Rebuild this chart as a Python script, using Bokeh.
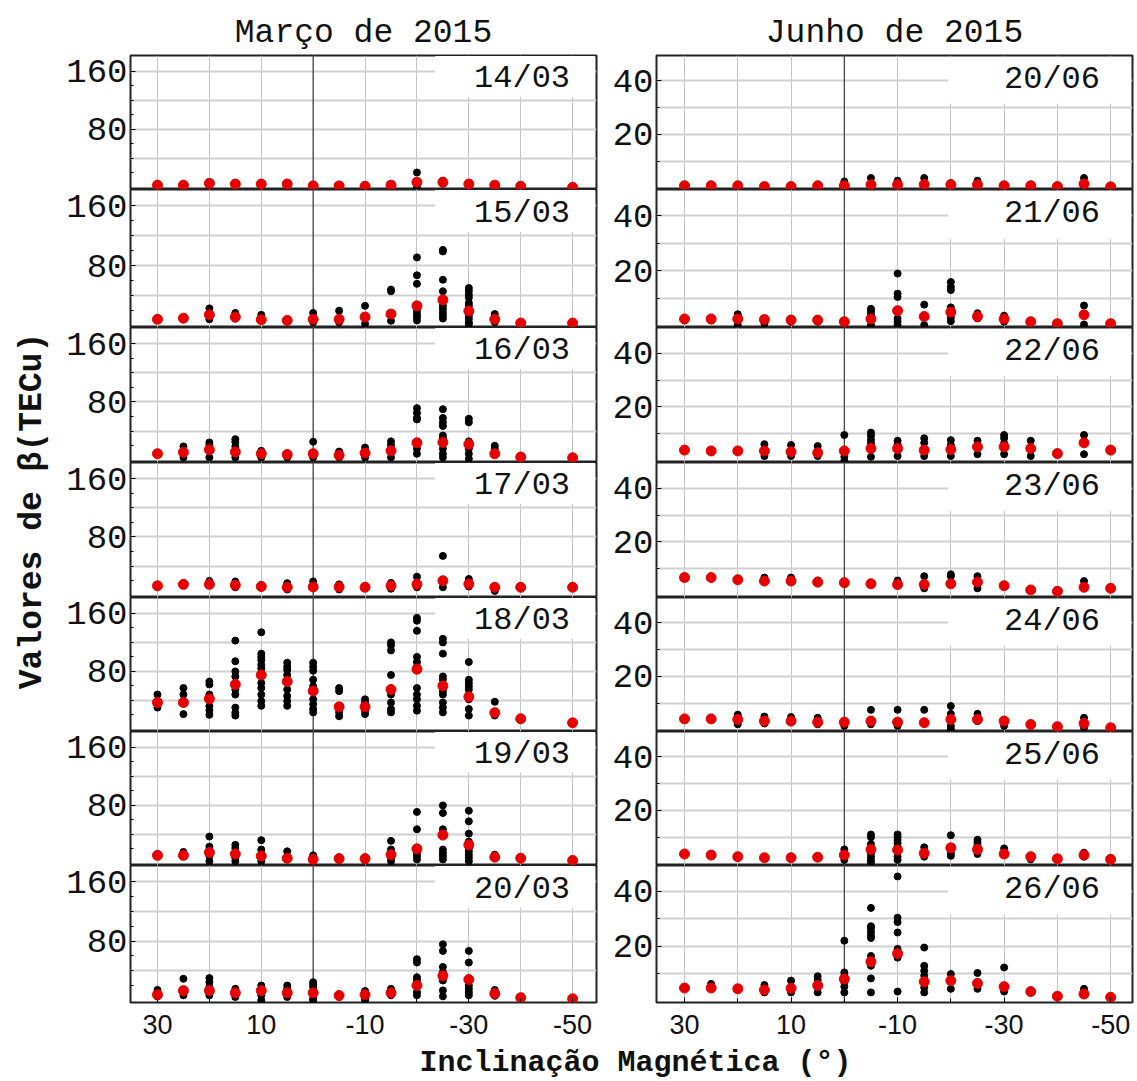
import math
from bokeh.plotting import figure
from bokeh.layouts import gridplot, row, column
from bokeh.models import Range1d, FixedTicker, Grid, Span, Label, BoxAnnotation
from bokeh.embed import file_html
from bokeh.resources import INLINE

MONO = "Liberation Mono"

# ---------------- data ----------------
incl_mar = [30, 25, 20, 15, 10, 5, 0, -5, -10, -15, -20, -25, -30, -35, -40, -50]
incl_jun = [30, 25, 20, 15, 10, 5, 0, -5, -10, -15, -20, -25, -30, -35, -40, -45, -50]

mar14_mean = [3, 3, 5.5, 4.5, 4.5, 4.5, 2, 2, 1.5, 3, 7, 7, 4.5, 3, 1.5, 0]
mar14_pts = [[1, 4], [2, 4], [3, 7], [3, 6], [2, 6], [3, 6], [1, 3], [1, 3], [1], [2, 4],
             [0, 7, 20.5], [5, 9], [2, 6], [2], [1], [0]]

mar15_mean = [8, 9.5, 14, 11, 7.5, 6.5, 8, 8, 11, 15, 26, 34, 19, 8, 3, 3]
mar15_pts = [[7], [8], [8, 14, 22.6], [9, 16.5], [6, 14], [5, 7], [4, 16.5], [4, 19.5],
             [2, 11, 26], [6, 15, 45.6, 47.8], [6.5, 11, 15, 19.5, 55.6, 67, 91],
             [9, 13, 17, 22, 26, 45.6, 61, 99, 101],
             [1.5, 4, 9, 13, 19, 26, 30, 37, 41, 46, 50], [4, 15], [3], [3]]

mar16_mean = [9, 11, 14.5, 11.5, 9, 8, 9, 7, 10, 13, 24, 24.5, 22, 9, 4.5, 3.5]
mar16_pts = [[8], [4, 19], [4, 21, 24.5], [4, 19, 25, 29], [4, 13], [4, 8], [4, 25.5], [4, 12],
             [4, 17.5], [4, 21, 26], [9, 16, 56, 58, 65, 71.5],
             [4, 9, 16, 30, 34, 47, 52, 58, 70], [2, 9, 16, 26, 52, 57], [8, 16, 20], [4], [3]]

mar17_mean = [13, 15, 15, 14, 12, 11, 11.5, 11.5, 11, 13, 15, 20, 15.5, 11, 11, 11]
mar17_pts = [[12], [14], [14, 19.7], [11, 19], [11, 14], [8, 16.6], [12, 19], [8, 15], [11],
             [9, 17], [11, 25.6], [11, 54], [12, 22.4], [6, 12], [11], [11]]

mar18_mean = [37, 37, 42, 62, 75, 66, 53, 31, 31, 55, 83, 60, 45, 23, 14.5, 9]
mar18_pts = [[30, 48], [21, 48, 57], [20, 26, 32, 44, 48, 62, 66],
             [19, 23, 30, 48, 55, 73, 80, 94, 122.5],
             [32.5, 39, 48, 57, 64, 84, 89, 95.5, 100, 104.5, 134],
             [32.5, 39, 46, 55, 75, 82, 86.5, 92],
             [23.4, 28, 34.7, 41.4, 59.5, 68.5, 81, 86.5, 92],
             [18, 23.4, 52.7, 57], [21, 25.7, 37, 41.4],
             [23.4, 28, 37, 48, 75, 109, 116, 120],
             [25.7, 32.5, 41.4, 48, 57, 86.5, 93, 100, 136, 150, 154],
             [23.4, 30, 37, 48, 52.7, 68.5, 73, 104.5, 120, 125],
             [19, 28, 41.4, 48, 55, 59.5, 64, 68.5, 93], [19, 38], [14.5], [9]]

mar19_mean = [11, 11, 15, 13, 10, 7, 5.5, 6.5, 6.5, 12, 20, 39, 25.5, 8.5, 7, 4]
mar19_pts = [[10], [11, 15.7], [3, 10, 19, 23, 37], [3, 7.6, 21, 25.5], [3, 19, 32],
             [5.4, 16.6], [3, 11], [5, 8.5], [4, 8], [3, 7.6, 19, 31],
             [5.4, 10, 14.3, 47, 71], [5.4, 10, 14.3, 19, 47, 69.5, 80],
             [3, 7.6, 12, 16.6, 21, 30, 41, 58, 72.6], [12], [7], [4]]

mar20_mean = [7.5, 13, 13, 10, 13, 10, 10, 6.5, 7.5, 10, 20, 33, 28, 9, 3.5, 2]
mar20_pts = [[5, 14], [6.7, 29], [6.7, 17.8, 24.4, 30], [4.4, 15.5], [0, 6.7, 20],
             [4.4, 15.5, 20], [0, 2.2, 17.8, 21.3, 24.4], [4.4], [0, 2.2, 12.4], [6.7, 15.5],
             [6.7, 11, 26.7, 31, 51, 55.5], [5.3, 13.3, 26.7, 37.8, 45, 66.7, 75.5],
             [6.7, 11, 15.5, 20, 51, 66.7], [6, 14], [3], [2]]

jun20_mean = [0.8, 0.8, 0.8, 0.5, 0.5, 0.8, 0.8, 1.2, 1.2, 1.3, 1.2, 1.2, 0.8, 0.8, 0.5, 1.5, 0.4]
jun20_pts = [[0.5], [0.5], [0.5], [0.3], [0.3], [0.5], [0.3, 2.4], [0.3, 3.7], [0.3, 2.7],
             [0.3, 3.7], [0.3, 1.8], [0.5, 2.7], [0.3, 1.2], [0.3, 1.2], [0.3], [0.3, 3.7], [0.2]]

jun21_mean = [2.5, 2.5, 2.5, 2.3, 2.1, 2.1, 1.5, 2.5, 5.5, 3.4, 5, 3.4, 2.5, 1.5, 0.8, 4, 0.8]
jun21_pts = [[2], [2], [0.3, 4.2], [0.8, 2.5], [1.5], [1.5], [0.8, 1.5], [0.3, 4, 5.2, 6.2],
             [0.3, 1.5, 2.7, 10.5, 11.7, 19], [0.3, 3.4, 7.7], [1.7, 3, 6.7, 13, 14.2, 15.9],
             [2.7, 4.6], [1.5, 3.7], [1.5], [0.8], [0.5, 4, 7.4], [0.8]]

jun22_mean = [4, 3.7, 3.7, 3.7, 3.4, 3, 3.7, 4.6, 4.6, 4, 4.2, 5.2, 5.2, 4.6, 2.7, 6.7, 4]
jun22_pts = [[4], [3.7], [3.7], [1.8, 6.2], [1.8, 5.9], [1.8, 5.5], [0, 1.5, 9.6],
             [1.5, 6.5, 7.8, 9.3, 10.5], [1.8, 6.2, 7.5], [1.8, 6.7, 8.4], [1.8, 5.9, 7.7],
             [2.5, 7.5], [2.5, 6.5, 8.4, 9.6], [1.8, 7.5], [2.7], [2.5, 9.6], [4]]

jun23_mean = [6.8, 6.8, 6, 5.5, 5.5, 5.1, 4.9, 4.5, 4.2, 4.2, 4.5, 5.1, 3.8, 2.2, 1.7, 3.2, 2.8]
jun23_pts = [[6.8], [6.8], [6], [6.8], [6.8], [5.7], [4.9], [4.5], [5.7], [2.8, 7.3],
             [7.3, 8], [2.8, 7.3], [3.8], [2.2], [1.7], [5.5], [2.8]]

jun24_mean = [4.1, 4.1, 3.9, 3.3, 3.3, 2.9, 2.9, 3.3, 2.9, 2.7, 3.9, 3.9, 3.3, 2, 1.2, 2.4, 0.8]
jun24_pts = [[4.1], [4.1], [2.1, 5.7], [2.4, 5], [4.8], [2.1, 4.5], [1.5], [2.1, 7.5],
             [1.5, 7.5], [7.5], [0.3, 1.5, 6, 8.9], [3.3, 6], [1.5], [2], [1.2], [0.8, 4.5], [0.8]]

jun25_mean = [3.7, 3.3, 2.7, 2.3, 2.3, 2.5, 3.3, 5.4, 5.2, 4, 6, 5.4, 3.7, 2.7, 1.9, 3.3, 1.7]
jun25_pts = [[3.7], [3.3], [2.7], [2.3], [2.3], [2.5], [1.5, 5.4],
             [0.5, 1.5, 2.7, 4, 7.4, 10, 11], [1.5, 2.7, 6.4, 7.7, 8.9, 10, 11],
             [2.7, 4.6, 6.2], [3, 4, 10.7], [3.7, 7, 8, 9], [3.7, 5.8], [1.7], [1.9],
             [2.7, 4.2], [1.7]]

jun26_mean = [4.7, 4.7, 4.4, 4, 4.6, 5.6, 8, 14.3, 17.3, 7, 7.4, 6.4, 5.2, 3.4, 1.7, 2.5, 1.3]
jun26_pts = [[4.7], [6.2], [4.4], [3.1, 5.8], [3.1, 7.4], [3.1, 7.6, 9],
             [3.1, 5.2, 6.8, 9.2, 10.4, 22],
             [3.1, 8.2, 12.8, 16.4, 23, 24, 25.3, 26.6, 27.3, 34],
             [3.4, 15.8, 19, 25, 28.8, 30.4, 45.5], [3.1, 4.9, 9.2, 11, 12.8, 19.5],
             [4.4, 9.8], [4.4, 10.2], [3.4, 12.2], [3.4], [1.7], [4.4], [1.3]]

mar_days = ["14/03", "15/03", "16/03", "17/03", "18/03", "19/03", "20/03"]
jun_days = ["20/06", "21/06", "22/06", "23/06", "24/06", "25/06", "26/06"]
mar_means = [mar14_mean, mar15_mean, mar16_mean, mar17_mean, mar18_mean, mar19_mean, mar20_mean]
mar_pts = [mar14_pts, mar15_pts, mar16_pts, mar17_pts, mar18_pts, mar19_pts, mar20_pts]
jun_means = [jun20_mean, jun21_mean, jun22_mean, jun23_mean, jun24_mean, jun25_mean, jun26_mean]
jun_pts = [jun20_pts, jun21_pts, jun22_pts, jun23_pts, jun24_pts, jun25_pts, jun26_pts]

x_grid_ticks = [30, 20, 10, 0, -10, -20, -30, -40, -50]
x_label_ticks = [30, 10, -10, -30, -50]
mar_y_grid = [40, 80, 120, 160]
mar_y_ticks = [80, 160]
jun_y_grid = [10, 20, 30, 40]
jun_y_ticks = [20, 40]

# ---------------- layout ----------------
frame_h = [134, 138, 135, 135, 134, 134, 137]
TOP = 55
BOTTOM = 42
YFIG_W = 58


def make_panel(r, left, day, xs, mean, pts):
    last = r == len(frame_h) - 1
    fw = 466 if left else 476
    xr = Range1d(35.2, -54.6) if left else Range1d(35.26, -54.1)
    yr = Range1d(-3, 182) if left else Range1d(-0.6, 49.5)
    p = figure(frame_width=fw, frame_height=frame_h[r], x_range=xr, y_range=yr,
               output_backend="svg", toolbar_location=None,
               x_axis_location="below" if last else None,
               min_border_left=(130 - YFIG_W) if left else 58, min_border_right=2,
               min_border_top=TOP if r == 0 else 0, min_border_bottom=BOTTOM if last else 0)
    p.grid.visible = False
    p.outline_line_color = "#222222"
    p.outline_line_width = 2
    p.outline_line_alpha = 1
    p.background_fill_color = "white"

    if r == 0:
        p.title.text = "Março de 2015" if left else "Junho de 2015"
        p.title.align = "center"
        p.title.text_font = MONO
        p.title.text_font_size = "33px"
        p.title.text_font_style = "normal"
        p.title.text_color = "#111111"
        p.title.standoff = 8

    p.add_layout(Grid(dimension=0, ticker=FixedTicker(ticks=x_grid_ticks),
                      grid_line_color="#c4c4c4", grid_line_width=1))
    p.add_layout(Grid(dimension=1, ticker=FixedTicker(ticks=mar_y_grid if left else jun_y_grid),
                      grid_line_color="#d0d0d0", grid_line_width=2))
    # white label box
    p.add_layout(BoxAnnotation(left=-23.5 if left else -19.5, right=xr.end + 0.3,
                               bottom=125 if left else 31.5, top=yr.end - 0.6,
                               fill_color="white", fill_alpha=1, line_alpha=0, level="underlay"))
    p.add_layout(Span(location=0, dimension="height", line_color="#3a3a3a",
                      line_width=1.2, level="underlay"))

    ya = p.yaxis[0]
    if left:
        ya.ticker = FixedTicker(ticks=mar_y_ticks, minor_ticks=[20, 40, 60, 100, 120, 140])
    else:
        ya.ticker = FixedTicker(ticks=jun_y_ticks, minor_ticks=[10, 30])
    ya.major_label_text_font = MONO
    ya.major_label_text_font_size = "34px"
    ya.major_label_text_color = "#111111"
    ya.major_label_standoff = 3
    ya.major_tick_in = 5
    ya.major_tick_out = 0
    ya.minor_tick_in = 3
    ya.minor_tick_out = 0
    ya.axis_line_color = None

    if last:
        xa = p.xaxis[0]
        xa.ticker = FixedTicker(ticks=x_label_ticks, minor_ticks=[20, 0, -20, -40])
        xa.major_label_overrides = {t: str(t) for t in x_label_ticks}
        xa.major_label_text_font = "Liberation Sans"
        xa.major_label_text_font_size = "27px"
        xa.major_label_text_color = "#111111"
        xa.major_label_standoff = 12
        xa.major_tick_in = 5
        xa.major_tick_out = 0
        xa.minor_tick_in = 4
        xa.minor_tick_out = 0
        xa.axis_line_color = None

    bx, by = [], []
    for x, vals in zip(xs, pts):
        bx += [x] * len(vals)
        by += vals
    p.scatter(bx, by, size=7, color="black")
    p.scatter(xs, mean, size=10, color="#e60000")

    p.add_layout(Label(x=-49.5 if left else -48, y=150 if left else 40.7, text=day,
                       text_align="right", text_baseline="middle",
                       text_font=MONO, text_font_size="32px", text_color="#111111"))
    return p


rows = []
for r in range(7):
    pl = make_panel(r, True, mar_days[r], incl_mar, mar_means[r], mar_pts[r])
    pr = make_panel(r, False, jun_days[r], incl_jun, jun_means[r], jun_pts[r])
    rows.append([pl, pr])

grid = gridplot(rows, toolbar_location=None)

total_h = TOP + sum(frame_h) + BOTTOM
yfig = figure(width=YFIG_W, height=total_h, x_range=(0, 1), y_range=(0, 1),
              output_backend="svg", toolbar_location=None,
              x_axis_location=None, y_axis_location=None, min_border=0)
yfig.outline_line_color = None
yfig.grid.visible = False
yfig.add_layout(Label(x=32 / YFIG_W, y=0.511, text="Valores de β(TECu)", angle=math.pi / 2,
                      text_align="center", text_baseline="middle", text_font=MONO,
                      text_font_size="33px", text_font_style="bold", text_color="#111111"))

xfig = figure(width=1134, height=36, x_range=(0, 1), y_range=(0, 1),
              output_backend="svg", toolbar_location=None,
              x_axis_location=None, y_axis_location=None, min_border=0)
xfig.outline_line_color = None
xfig.grid.visible = False
xfig.add_layout(Label(x=0.56, y=0.5, text="Inclinação Magnética (°)",
                      text_align="center", text_baseline="middle", text_font=MONO,
                      text_font_size="30px", text_font_style="bold", text_color="#111111"))

layout = column(row(yfig, grid), xfig)

open("out.html", "w").write(file_html(layout, INLINE))
